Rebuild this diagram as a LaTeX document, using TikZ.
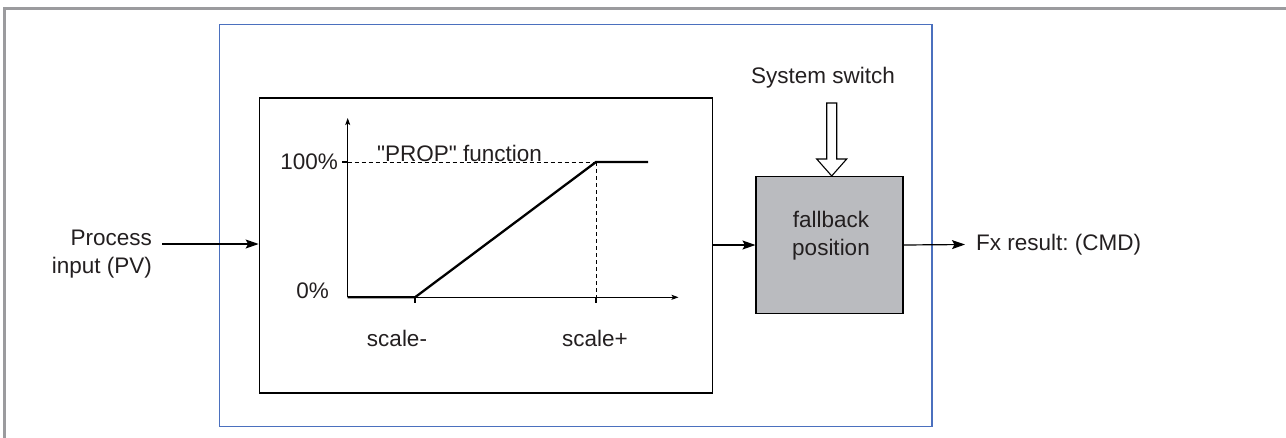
\documentclass[tikz,border=0pt]{standalone}
\usepackage{fontspec}
\setmainfont{Liberation Sans}
\usetikzlibrary{arrows.meta,calc}
\definecolor{txt}{RGB}{35,31,32}
\definecolor{framegray}{RGB}{155,155,158}
\definecolor{frameblue}{RGB}{75,112,190}
\definecolor{boxgray}{RGB}{186,187,191}
\frenchspacing
\tikzset{
  lbl/.style={font=\fontsize{22.5}{28}\selectfont, text=txt, inner sep=0pt},
  conn/.style={line width=1.2pt, -{Stealth[length=13pt,width=9pt,inset=2.5pt]}},
  axis/.style={line width=1pt, -{Stealth[length=7pt,width=5pt,inset=1.5pt]}},
  dashline/.style={line width=0.9pt, dash pattern=on 4pt off 3pt},
  curve/.style={line width=2.3pt, line join=miter},
  tickline/.style={line width=1.6pt}
}
\begin{document}
\begin{tikzpicture}[x=1pt,y=-1pt]
\useasboundingbox (0,0) rectangle (1286,437);
% outer gray frame
\draw[framegray, line width=3pt] (1290,8.5) -- (4.3,8.5) -- (4.3,440);
% blue frame
\node[draw=frameblue, line width=1.1pt, minimum width=712.5pt, minimum height=402pt, inner sep=0pt] (blue) at (575.75,23.5) [anchor=north] {};
% function box
\node[draw, line width=1.1pt, minimum width=453pt, minimum height=295pt, inner sep=0pt] (func) at (485.7,245.5) {};
% fallback box
\node[draw, fill=boxgray, line width=1.1pt, minimum width=147pt, minimum height=137pt, inner sep=0pt] (fb) at (829.5,245) {};
\node[lbl, align=center] (fbtxt) at (831,236) {fallback\\position};
% process input
\node[lbl, align=right, anchor=east] (pv) at (152,254.5) {Process\\input (PV)};
\coordinate (pvout) at (162,244);
\draw[conn] (pvout) -- (func.west |- pvout);
% func -> fallback
\draw[conn] (func.east |- 0,245) -- (fb.west);
% output
\node[lbl, anchor=west, inner xsep=11pt] (cmd) at (965,244.5) {Fx result: (CMD)};
\draw[conn] (fb.east) -- (cmd.west);
% system switch
\node[lbl] (sys) at (823,78) {System switch};
\coordinate (sw) at (831.7,103);
\draw[line width=1.1pt, fill=white, line join=miter]
  ($(sw)+(-5,0)$) -- ($(sw)+(5,0)$) -- ($(sw)+(5,56)$) -- ($(sw)+(15,56)$)
  -- (fb.north -| sw) -- ($(sw)+(-15,56)$) -- ($(sw)+(-5,56)$) -- cycle;
% graph
\coordinate (O) at (347.7,297.3);
\coordinate (ytop) at (347.7,118);
\coordinate (xend) at (678.5,297.3);
\coordinate (sm) at (415,297.3);
\coordinate (sp) at (596,297.3);
\coordinate (hp) at (596,162);
\coordinate (hl) at (347.7,162);
\coordinate (hend) at (648,162);
\draw[axis] (O) -- (ytop);
\draw[axis] (O) -- (xend);
\draw[dashline] (hl) -- (hp);
\draw[dashline] (hp) -- (sp);
\draw[tickline] (hl) -- ++(-6,0);
\draw[tickline] (sm) -- ++(0,6);
\draw[tickline] (sp) -- ++(0,6);
\draw[curve] (O) -- (sm) -- (hp) -- (hend);
\node[lbl, anchor=east] (p100) at (338,162) {100\%};
\node[lbl, anchor=east] (p0) at (329,291) {0\%};
\node[lbl, anchor=base west] (prop) at (377,161) {\textquotedbl PROP\textquotedbl{} function};
\node[lbl] (smlbl) at (397,338) {scale-};
\node[lbl] (splbl) at (595,338) {scale+};
\end{tikzpicture}
\end{document}
